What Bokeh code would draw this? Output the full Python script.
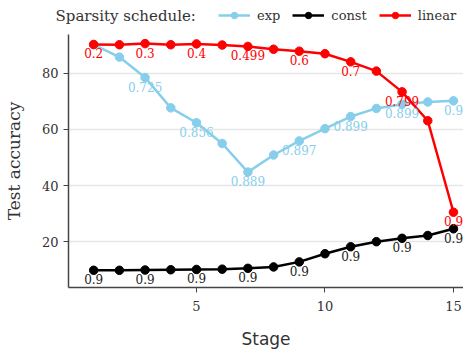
from bokeh.plotting import figure
from bokeh.layouts import column
from bokeh.models import (Legend, LegendItem, Label, ColumnDataSource, Range1d,
                          FixedTicker)
from bokeh.embed import file_html
from bokeh.resources import INLINE

stages = list(range(1, 16))
exp_acc = [90.2, 85.8, 78.5, 67.7, 62.4, 55.0, 44.8, 50.9, 55.9, 60.3, 64.6, 67.5, 69.0, 69.8, 70.2]
const_acc = [9.8, 9.8, 9.9, 10.0, 10.1, 10.2, 10.5, 11.0, 12.8, 15.7, 18.2, 20.0, 21.2, 22.2, 24.6]
linear_acc = [90.3, 90.2, 90.6, 90.2, 90.5, 90.1, 89.6, 88.6, 87.9, 87.0, 84.1, 80.8, 73.4, 63.1, 30.5]

label_stages = [1, 3, 5, 7, 9, 11, 13, 15]
exp_labels = ["", "0.725", "0.856", "0.889", "0.897", "0.899", "0.899", "0.9"]
const_labels = ["0.9", "0.9", "0.9", "0.9", "0.9", "0.9", "0.9", "0.9"]
linear_labels = ["0.2", "0.3", "0.4", "0.499", "0.6", "0.7", "0.799", "0.9"]

series_names = ["exp", "const", "linear"]
series_colors = ["#87CEEB", "#000000", "#FF0000"]
label_colors = ["#87CEEB", "#222222", "#FF0000"]

SERIF = "DejaVu Serif"
SANS = "DejaVu Sans"
W = 463
TOP_H = 34

all_acc = [exp_acc, const_acc, linear_acc]
all_labels = [exp_labels, const_labels, linear_labels]
sources = [ColumnDataSource(dict(x=stages, y=acc)) for acc in all_acc]

# ---- legend strip (series drawn out of its view, only their legend shows) ----
top = figure(width=W, height=TOP_H, output_backend="svg", toolbar_location=None,
             x_range=Range1d(0, 1), y_range=Range1d(-2, -1),
             x_axis_type=None, y_axis_type=None,
             min_border=0, outline_line_color=None)
top.frame_align = False
top.xgrid.grid_line_color = None
top.ygrid.grid_line_color = None
items = []
for name, col, src in zip(series_names, series_colors, sources):
    ln = top.line("x", "y", source=src, line_color=col, line_width=2.5)
    sc = top.scatter("x", "y", source=src, size=8.5, fill_color=col, line_color=col)
    items.append(LegendItem(label=name, renderers=[ln, sc], index=0))
legend = Legend(items=items, orientation="horizontal", location=(218, 11),
                padding=0, margin=0, spacing=12, glyph_width=32, glyph_height=16,
                label_height=16, label_standoff=7,
                label_text_font=SERIF, label_text_font_size="13px",
                label_text_color="#333333", border_line_color=None,
                background_fill_alpha=0)
top.add_layout(legend, "center")
top.add_layout(Label(x=55, y=19, x_units="screen", y_units="screen",
                     text="Sparsity schedule:", text_font=SERIF,
                     text_font_size="15px", text_color="#333333",
                     text_baseline="middle"))

# ---- main plot ----
p = figure(width=W, height=351 - TOP_H, output_backend="svg", toolbar_location=None,
           x_range=Range1d(0.02, 15.39), y_range=Range1d(3.67, 93.85),
           min_border_left=68, min_border_right=0, min_border_top=0,
           min_border_bottom=63)
p.frame_align = False
p.outline_line_color = None
p.xgrid.grid_line_color = None
p.ygrid.grid_line_color = "#e6e6e6"
p.ygrid.grid_line_width = 1.5

p.xaxis.ticker = FixedTicker(ticks=[5, 10, 15])
p.yaxis.ticker = FixedTicker(ticks=[20, 40, 60, 80])
for ax in (p.xaxis, p.yaxis):
    ax.axis_line_color = "#444444"
    ax.axis_line_width = 1.5
    ax.major_tick_line_color = "#444444"
    ax.major_tick_in = 0
    ax.major_tick_out = 5
    ax.minor_tick_line_color = None
    ax.major_label_text_font = SERIF
    ax.major_label_text_font_size = "13px"
    ax.major_label_text_color = "#333333"
    ax.axis_label_text_font_style = "normal"
    ax.axis_label_text_font_size = "17px"
    ax.axis_label_text_color = "#333333"
p.xaxis.major_label_standoff = 8
p.xaxis.axis_label = "Stage"
p.xaxis.axis_label_text_font = SANS
p.xaxis.axis_label_standoff = 15
p.yaxis.axis_label = "Test accuracy"
p.yaxis.axis_label_text_font = SERIF
p.yaxis.axis_label_standoff = 15

for col, src in zip(series_colors, sources):
    p.line("x", "y", source=src, line_color=col, line_width=2.5)
    p.scatter("x", "y", source=src, size=8.5, fill_color=col, line_color=col)

for acc, labs, col in zip(all_acc, all_labels, label_colors):
    xs, ys, ts = [], [], []
    for s, t in zip(label_stages, labs):
        if t:
            xs.append(s)
            ys.append(acc[s - 1])
            ts.append(t)
    src = ColumnDataSource(dict(x=xs, y=ys, t=ts))
    p.text("x", "y", text="t", source=src, text_color=col, text_font={"value": SERIF},
           text_font_size="12px", text_align="center", text_baseline="top", y_offset=4)

layout = column(top, p, spacing=0)
open("out.html", "w").write(file_html(layout, INLINE))
